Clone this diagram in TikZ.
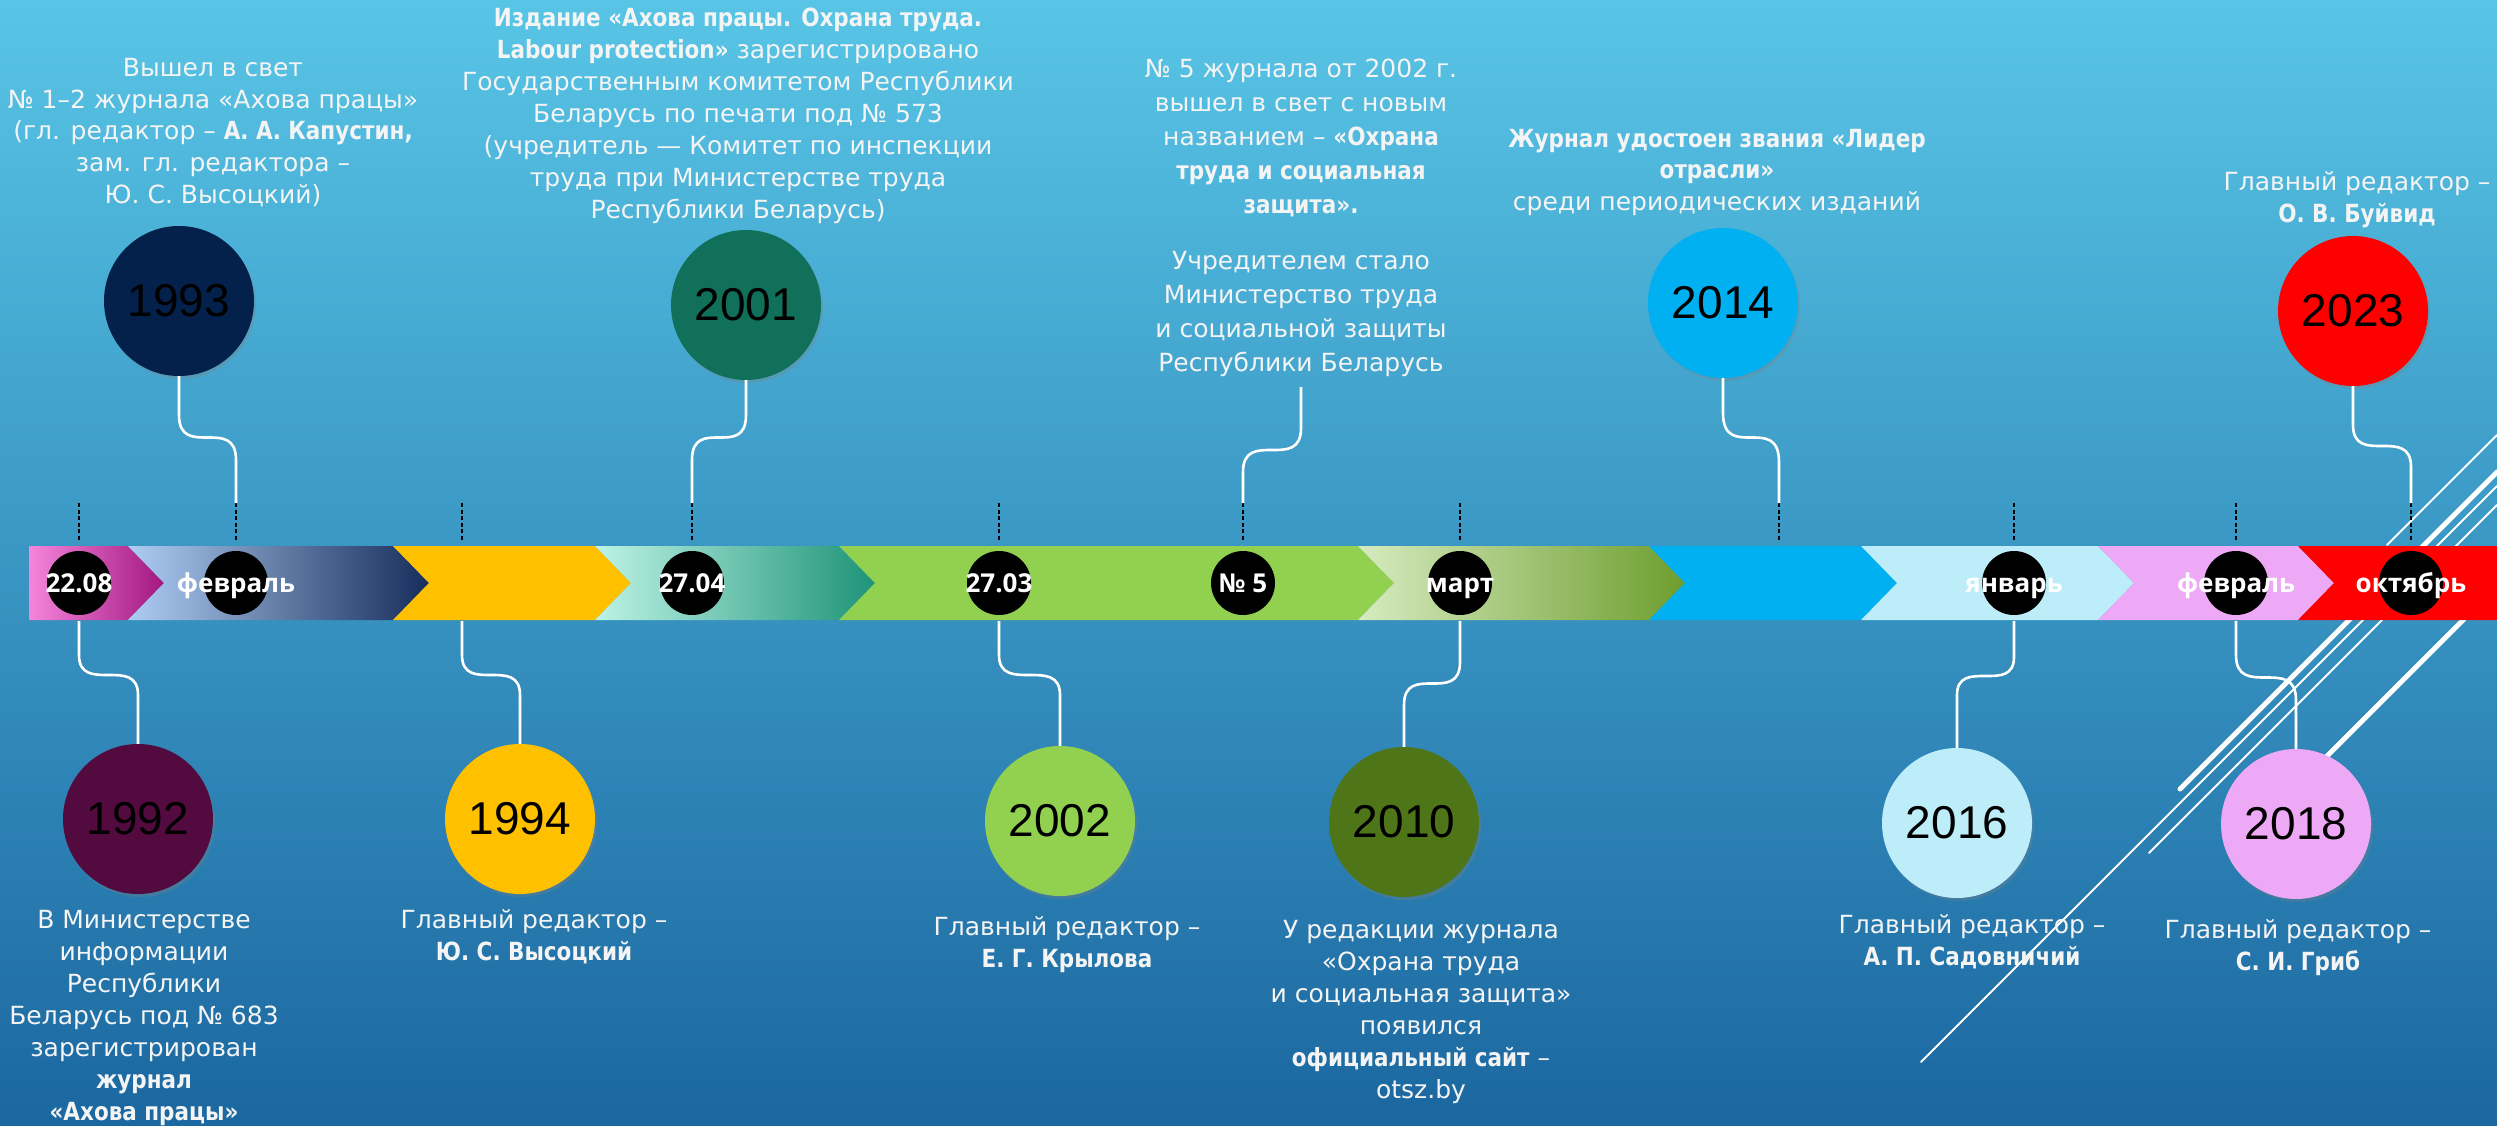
\documentclass[tikz,border=0pt]{standalone}
\usepackage{fontspec}
\setmainfont{DejaVu Sans}[BoldFeatures={FakeStretch=0.86}]
\newfontfamily\lblfont{Open Sans}
\newfontfamily\yearfont{Liberation Sans}
\usetikzlibrary{shadows,calc}
\definecolor{bgtop}{HTML}{58C5E6}
\definecolor{bgmid}{HTML}{3A9BC7}
\definecolor{bgbot}{HTML}{1B67A0}
\definecolor{txt}{HTML}{F4F4F4}
\definecolor{pinkA}{HTML}{F585DC}
\definecolor{pinkM}{HTML}{CB4FAE}
\definecolor{pinkB}{HTML}{A2177F}
\definecolor{blueA}{HTML}{AECDF3}
\definecolor{blueM}{HTML}{869FC8}
\definecolor{blueB}{HTML}{182D5B}
\definecolor{yel}{HTML}{FFC000}
\definecolor{mintA}{HTML}{BDF3E6}
\definecolor{mintM}{HTML}{85CCB6}
\definecolor{mintB}{HTML}{1E9478}
\definecolor{grn}{HTML}{92D050}
\definecolor{oliA}{HTML}{D6EBC0}
\definecolor{oliM}{HTML}{A5C585}
\definecolor{oliB}{HTML}{6E9E2E}
\definecolor{sky}{HTML}{00B0F0}
\definecolor{cyanl}{HTML}{BDEDF8}
\definecolor{lav}{HTML}{EDA9F5}
\definecolor{rd}{HTML}{FF0000}
\definecolor{c1993}{HTML}{03214A}
\definecolor{c2001}{HTML}{10705A}
\definecolor{c1992}{HTML}{520A3F}
\definecolor{c2010}{HTML}{4F7519}
\newcommand\tstrut{\rule{0pt}{25pt}}
\newcommand\segm[3]{\path[#3] (#1,546) -- (#2,546) -- ({#2+36},583) -- (#2,620) -- (#1,620) -- ({#1+36},583) -- cycle;}
\begin{document}
\begin{tikzpicture}[x=1pt,y=-1pt,
  conn/.style={draw=white, line width=2.6pt},
  tickln/.style={draw=black, line width=2pt, dash pattern=on 4pt off 2.5pt},
  dot/.style={circle, fill=black, minimum size=64pt, inner sep=0pt},
  dlbl/.style={font=\lblfont\bfseries\fontsize{26}{26}\selectfont, text=white, inner sep=0pt, text height=18.6pt, text depth=0pt},
  yc/.style={circle, minimum size=150pt, inner sep=0pt, font=\yearfont\fontsize{46}{46}\selectfont, text=black, drop shadow={shadow xshift=2pt, shadow yshift=-3pt, opacity=0.3}},
  blk/.style={align=center, text=txt, inner sep=0pt, anchor=north, font=\fontsize{25}{32}\selectfont},
  deco/.style={draw=white, line cap=round}]
\useasboundingbox (0,0) rectangle (2497,1125);
\shade[top color=bgtop, middle color=bgmid, bottom color=bgbot] (0,0) rectangle (2497,1125);

% decorative diagonal lines
\draw[deco, line width=2pt] (1921,1062) -- (2497,486);
\draw[deco, line width=5pt] (2180,789) -- (2497,472);
\draw[deco, line width=2pt] (2149,853) -- (2497,505);
\draw[deco, line width=5pt] (2300,783) -- (2497,586);
\draw[deco, line width=2pt] (2387,545) -- (2497,435);

% band
\path[left color=pinkA, middle color=pinkM, right color=pinkB] (29,546) -- (128,546) -- (164,583) -- (128,620) -- (29,620) -- cycle;
\segm{128}{393}{left color=blueA, middle color=blueM, right color=blueB}
\segm{393}{595}{fill=yel}
\segm{595}{839}{left color=mintA, middle color=mintM, right color=mintB}
\segm{839}{1358}{fill=grn}
\segm{1358}{1649}{left color=oliA, middle color=oliM, right color=oliB}
\segm{1649}{1861}{fill=sky}
\segm{1861}{2098}{fill=cyanl}
\segm{2098}{2298}{fill=lav}
\path[fill=rd] (2298,546) -- (2497,546) -- (2497,620) -- (2298,620) -- (2334,583) -- cycle;

% dashed ticks
\foreach \x [count=\i] in {79,236,462,692,999,1243,1460,1779,2014,2236,2411}{
  \coordinate (ta\i) at (\x,503);
  \coordinate (tb\i) at (\x,541);
  \coordinate (bb\i) at (\x,621);
  \draw[tickln] (ta\i) -- (tb\i);
}

% dots on the band
\node[dot] (d1) at (79,583) {};
\node[dot] (d2) at (236,583) {};
\node[dot] (d4) at (692,583) {};
\node[dot] (d5) at (999,583) {};
\node[dot] (d6) at (1243,583) {};
\node[dot] (d7) at (1460,583) {};
\node[dot] (d9) at (2014,583) {};
\node[dot] (d10) at (2236,583) {};
\node[dot] (d11) at (2411,583) {};
\node[dlbl] (l1) at (d1) {22.08};
\node[dlbl] (l2) at (d2) {февраль};
\node[dlbl] (l4) at (d4) {27.04};
\node[dlbl] (l5) at (d5) {27.03};
\node[dlbl] (l6) at (d6) {№ 5};
\node[dlbl] (l7) at (d7) {март};
\node[dlbl] (l9) at (d9) {январь};
\node[dlbl] (l10) at (d10) {февраль};
\node[dlbl] (l11) at (d11) {октябрь};

% year circles
\node[yc, fill=c1993] (y1993) at (179,301) {1993};
\node[yc, fill=c2001] (y2001) at (746,305) {2001};
\node[yc, fill=sky] (y2014) at (1723,303) {2014};
\node[yc, fill=rd] (y2023) at (2353,311) {2023};
\node[yc, fill=c1992] (y1992) at (138,819) {1992};
\node[yc, fill=yel] (y1994) at (520,819) {1994};
\node[yc, fill=grn] (y2002) at (1060,821) {2002};
\node[yc, fill=c2010] (y2010) at (1404,822) {2010};
\node[yc, fill=cyanl] (y2016) at (1957,823) {2016};
\node[yc, fill=lav] (y2018) at (2296,824) {2018};

% connector bend points
\coordinate (a1) at (179,415); \coordinate (b1) at (236,460);
\coordinate (a2) at (746,415); \coordinate (b2) at (692,460);
\coordinate (s3) at (1301,387);
\coordinate (a3) at (1301,428); \coordinate (b3) at (1243,472);
\coordinate (a4) at (1723,413); \coordinate (b4) at (1779,462);
\coordinate (a5) at (2353,425); \coordinate (b5) at (2411,467);
\coordinate (a6) at (79,655); \coordinate (b6) at (138,695);
\coordinate (a7) at (462,655); \coordinate (b7) at (520,695);
\coordinate (a8) at (999,655); \coordinate (b8) at (1060,695);
\coordinate (a9) at (1460,662); \coordinate (b9) at (1404,705);
\coordinate (a10) at (2014,657); \coordinate (b10) at (1957,695);
\coordinate (a11) at (2236,655); \coordinate (b11) at (2296,700);

\draw[conn] (y1993.south) -- (a1) .. controls (a1 |- b1) and (b1 |- a1) .. (b1) -- (ta2);
\draw[conn] (y2001.south) -- (a2) .. controls (a2 |- b2) and (b2 |- a2) .. (b2) -- (ta4);
\draw[conn] (s3) -- (a3) .. controls (a3 |- b3) and (b3 |- a3) .. (b3) -- (ta6);
\draw[conn] (y2014.south) -- (a4) .. controls (a4 |- b4) and (b4 |- a4) .. (b4) -- (ta8);
\draw[conn] (y2023.south) -- (a5) .. controls (a5 |- b5) and (b5 |- a5) .. (b5) -- (ta11);
\draw[conn] (bb1) -- (a6) .. controls (a6 |- b6) and (b6 |- a6) .. (b6) -- (y1992.north);
\draw[conn] (bb3) -- (a7) .. controls (a7 |- b7) and (b7 |- a7) .. (b7) -- (y1994.north);
\draw[conn] (bb5) -- (a8) .. controls (a8 |- b8) and (b8 |- a8) .. (b8) -- (y2002.north);
\draw[conn] (bb7) -- (a9) .. controls (a9 |- b9) and (b9 |- a9) .. (b9) -- (y2010.north);
\draw[conn] (bb9) -- (a10) .. controls (a10 |- b10) and (b10 |- a10) .. (b10) -- (y2016.north);
\draw[conn] (bb10) -- (a11) .. controls (a11 |- b11) and (b11 |- a11) .. (b11) -- (y2018.north);

% texts above
\node[blk, font=\fontsize{25}{31.6}\selectfont] (tA) at (213,51.5) {\tstrut Вышел в свет\\
№ 1–2 журнала «Ахова працы»\\
(гл. редактор – \textbf{А. А. Капустин,}\\
зам. гл. редактора –\\
Ю. С. Высоцкий)};
\node[blk] (tB) at (738,1) {\tstrut\textbf{Издание «Ахова працы. Охрана труда.}\\
\textbf{Labour protection»} зарегистрировано\\
Государственным комитетом Республики\\
Беларусь по печати под № 573\\
(учредитель — Комитет по инспекции\\
труда при Министерстве труда\\
Республики Беларусь)};
\node[blk, font=\fontsize{25}{34}\selectfont] (tC) at (1301,52) {\tstrut № 5 журнала от 2002 г.\\
вышел в свет с новым\\
названием – \textbf{«Охрана}\\
\textbf{труда и социальная}\\
\textbf{защита».}\\[22pt]
Учредителем стало\\
Министерство труда\\
и социальной защиты\\
Республики Беларусь};
\node[blk, font=\fontsize{25}{31.5}\selectfont] (tD) at (1717,122) {\tstrut\textbf{Журнал удостоен звания «Лидер}\\
\textbf{отрасли»}\\
среди периодических изданий};
\node[blk] (tE) at (2357,165) {\tstrut Главный редактор –\\ \textbf{О. В. Буйвид}};

% texts below
\node[blk] (tF) at (144,903) {\tstrut В Министерстве\\
информации\\
Республики\\
Беларусь под № 683\\
зарегистрирован\\
\textbf{журнал}\\
\textbf{«Ахова працы»}};
\node[blk] (tG) at (534,903) {\tstrut Главный редактор –\\ \textbf{Ю. С. Высоцкий}};
\node[blk] (tH) at (1067,910) {\tstrut Главный редактор –\\ \textbf{Е. Г. Крылова}};
\node[blk] (tI) at (1421,913) {\tstrut У редакции журнала\\
«Охрана труда\\
и социальная защита»\\
появился\\
\textbf{официальный сайт} –\\
otsz.by};
\node[blk] (tJ) at (1972,908) {\tstrut Главный редактор –\\ \textbf{А. П. Садовничий}};
\node[blk] (tK) at (2298,913) {\tstrut Главный редактор –\\ \textbf{С. И. Гриб}};
\end{tikzpicture}
\end{document}
